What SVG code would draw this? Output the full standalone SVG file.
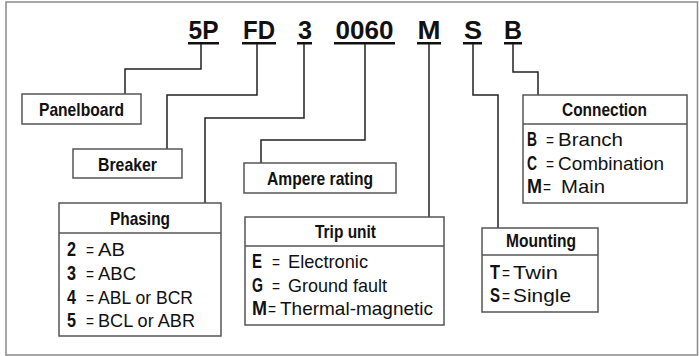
<svg xmlns="http://www.w3.org/2000/svg" width="699" height="356" viewBox="0 0 699 356">
<style>
.frame{fill:#fff;stroke:#8a8a8a;stroke-width:1.5}
.box{fill:#fff;stroke:#555;stroke-width:1.5}
.div{stroke:#555;stroke-width:1.5}
.con{fill:none;stroke:#222;stroke-width:1.5}
.ul{fill:#111}
.code{font-family:"Liberation Sans",Arial,sans-serif;font-weight:bold;font-size:25px;fill:#111;text-anchor:middle}
.hd{font-family:"Liberation Sans",Arial,sans-serif;font-weight:bold;font-size:18.5px;fill:#111;text-anchor:middle}
.k{font-family:"Liberation Sans",Arial,sans-serif;font-weight:bold;font-size:19.5px;fill:#111}
.v{font-family:"Liberation Sans",Arial,sans-serif;font-size:19px;fill:#111}
</style>
<rect class="frame" x="6" y="2" width="691.5" height="353"/>

<g id="code">
<text class="code" x="203.5" y="38.5" textLength="30" lengthAdjust="spacingAndGlyphs">5P</text>
<text class="code" x="259" y="38.5" textLength="32" lengthAdjust="spacingAndGlyphs">FD</text>
<text class="code" x="305" y="38.5" textLength="14" lengthAdjust="spacingAndGlyphs">3</text>
<text class="code" x="364.5" y="38.5" textLength="58" lengthAdjust="spacingAndGlyphs">0060</text>
<text class="code" x="429" y="38.5" textLength="23" lengthAdjust="spacingAndGlyphs">M</text>
<text class="code" x="473" y="38.5" textLength="18" lengthAdjust="spacingAndGlyphs">S</text>
<text class="code" x="513" y="38.5" textLength="18" lengthAdjust="spacingAndGlyphs">B</text>
<rect class="ul" x="188" y="42" width="31" height="2.5"/>
<rect class="ul" x="242" y="42" width="34" height="2.5"/>
<rect class="ul" x="297" y="42" width="15" height="2.5"/>
<rect class="ul" x="334" y="42" width="61" height="2.5"/>
<rect class="ul" x="417" y="42" width="24" height="2.5"/>
<rect class="ul" x="463" y="42" width="19" height="2.5"/>
<rect class="ul" x="504" y="42" width="18" height="2.5"/>
</g>

<g id="connectors">
<polyline class="con" points="201,44 201,69 125,69 125,94"/>
<polyline class="con" points="257,44 257,95 167,95 167,149"/>
<polyline class="con" points="304,44 304,118 205,118 205,203"/>
<polyline class="con" points="365,44 365,140 261,140 261,163"/>
<polyline class="con" points="429,44 429,217"/>
<polyline class="con" points="473,44 473,95 498,95 498,228"/>
<polyline class="con" points="513,44 513,72 538,72 538,95"/>
</g>

<g id="panelboard">
<rect class="box" x="22" y="94" width="119" height="30"/>
<text class="hd" x="81.5" y="115.5" textLength="85" lengthAdjust="spacingAndGlyphs">Panelboard</text>
</g>

<g id="breaker">
<rect class="box" x="73" y="149" width="109" height="29"/>
<text class="hd" x="127.5" y="171" textLength="59" lengthAdjust="spacingAndGlyphs">Breaker</text>
</g>

<g id="ampere">
<rect class="box" x="244" y="163" width="152" height="30"/>
<text class="hd" x="320" y="185" textLength="106" lengthAdjust="spacingAndGlyphs">Ampere rating</text>
</g>

<g id="phasing">
<rect class="box" x="59" y="203" width="162" height="133"/>
<line class="div" x1="59" y1="233" x2="221" y2="233"/>
<text class="hd" x="140" y="225" textLength="60" lengthAdjust="spacingAndGlyphs">Phasing</text>
<text class="k" x="67" y="256" textLength="9" lengthAdjust="spacingAndGlyphs">2</text><text class="v" x="86" y="256" textLength="8" lengthAdjust="spacingAndGlyphs">=</text><text class="v" x="98" y="256" textLength="27" lengthAdjust="spacingAndGlyphs">AB</text>
<text class="k" x="67" y="280" textLength="9" lengthAdjust="spacingAndGlyphs">3</text><text class="v" x="86" y="280" textLength="8" lengthAdjust="spacingAndGlyphs">=</text><text class="v" x="98" y="280" textLength="38" lengthAdjust="spacingAndGlyphs">ABC</text>
<text class="k" x="67" y="304" textLength="9" lengthAdjust="spacingAndGlyphs">4</text><text class="v" x="86" y="304" textLength="8" lengthAdjust="spacingAndGlyphs">=</text><text class="v" x="98" y="304" textLength="95" lengthAdjust="spacingAndGlyphs">ABL or BCR</text>
<text class="k" x="67" y="327" textLength="9" lengthAdjust="spacingAndGlyphs">5</text><text class="v" x="86" y="327" textLength="8" lengthAdjust="spacingAndGlyphs">=</text><text class="v" x="98" y="327" textLength="97" lengthAdjust="spacingAndGlyphs">BCL or ABR</text>
</g>

<g id="tripunit">
<rect class="box" x="245" y="217" width="199" height="108"/>
<line class="div" x1="245" y1="246" x2="444" y2="246"/>
<text class="hd" x="345.5" y="238" textLength="61" lengthAdjust="spacingAndGlyphs">Trip unit</text>
<text class="k" x="252" y="268" textLength="10" lengthAdjust="spacingAndGlyphs">E</text><text class="v" x="272" y="268" textLength="8" lengthAdjust="spacingAndGlyphs">=</text><text class="v" x="288" y="268" textLength="80" lengthAdjust="spacingAndGlyphs">Electronic</text>
<text class="k" x="252" y="292" textLength="11" lengthAdjust="spacingAndGlyphs">G</text><text class="v" x="272" y="292" textLength="8" lengthAdjust="spacingAndGlyphs">=</text><text class="v" x="288" y="292" textLength="99" lengthAdjust="spacingAndGlyphs">Ground fault</text>
<text class="k" x="252" y="315" textLength="15" lengthAdjust="spacingAndGlyphs">M</text><text class="v" x="268" y="315" textLength="8" lengthAdjust="spacingAndGlyphs">=</text><text class="v" x="280" y="315" textLength="153" lengthAdjust="spacingAndGlyphs">Thermal-magnetic</text>
</g>

<g id="connection">
<rect class="box" x="523" y="95" width="164" height="108"/>
<line class="div" x1="523" y1="124" x2="687" y2="124"/>
<text class="hd" x="604.5" y="115.5" textLength="85" lengthAdjust="spacingAndGlyphs">Connection</text>
<text class="k" x="527" y="146" textLength="10" lengthAdjust="spacingAndGlyphs">B</text><text class="v" x="546" y="146" textLength="8" lengthAdjust="spacingAndGlyphs">=</text><text class="v" x="558" y="146" textLength="65" lengthAdjust="spacingAndGlyphs">Branch</text>
<text class="k" x="527" y="170" textLength="10" lengthAdjust="spacingAndGlyphs">C</text><text class="v" x="546" y="170" textLength="8" lengthAdjust="spacingAndGlyphs">=</text><text class="v" x="558" y="170" textLength="106" lengthAdjust="spacingAndGlyphs">Combination</text>
<text class="k" x="527" y="193" textLength="15" lengthAdjust="spacingAndGlyphs">M</text><text class="v" x="543" y="193" textLength="8" lengthAdjust="spacingAndGlyphs">=</text><text class="v" x="561" y="193" textLength="44" lengthAdjust="spacingAndGlyphs">Main</text>
</g>

<g id="mounting">
<rect class="box" x="482" y="228" width="116" height="84"/>
<line class="div" x1="482" y1="255" x2="598" y2="255"/>
<text class="hd" x="541" y="247" textLength="70" lengthAdjust="spacingAndGlyphs">Mounting</text>
<text class="k" x="490" y="279" textLength="10" lengthAdjust="spacingAndGlyphs">T</text><text class="v" x="502" y="279" textLength="8" lengthAdjust="spacingAndGlyphs">=</text><text class="v" x="513" y="279" textLength="45" lengthAdjust="spacingAndGlyphs">Twin</text>
<text class="k" x="490" y="302" textLength="10" lengthAdjust="spacingAndGlyphs">S</text><text class="v" x="502" y="302" textLength="8" lengthAdjust="spacingAndGlyphs">=</text><text class="v" x="513" y="302" textLength="58" lengthAdjust="spacingAndGlyphs">Single</text>
</g>
</svg>
